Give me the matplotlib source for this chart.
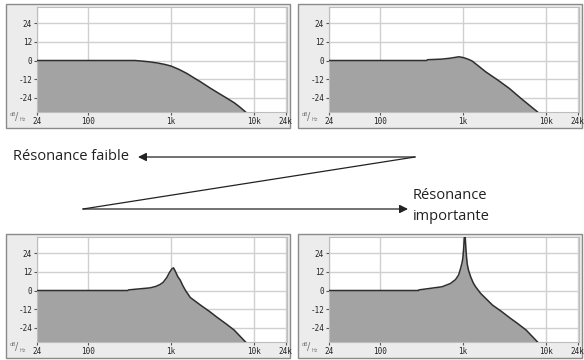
import matplotlib
matplotlib.use("Agg")
import matplotlib.pyplot as plt
from matplotlib.patches import Rectangle, FancyArrowPatch

# réponses du filtre (Hz, dB)
freq_faible = [24, 364, 450, 555, 700, 850, 1000, 1250, 1552, 1900, 2258, 2900, 3606,
               4600, 5756, 6800, 7835, 9000]
db_faible = [0, 0, -0.4, -0.9, -1.7, -2.6, -3.6, -5.8, -8.4, -11.3, -13.7, -17.5, -20.6,
             -24, -27.2, -30.2, -33, -36]

freq_moyenne = [24, 364, 370, 555, 700, 886, 1000, 1100, 1200, 1288, 1550, 1871, 2600,
                3606, 5000, 7835, 9000]
db_moyenne = [0, 0, 0.5, 0.9, 1.5, 2.4, 1.9, 1.2, 0.4, -0.4, -3.8, -7.3, -12.5,
              -18, -24.5, -33, -36]

freq_forte = [24, 300, 305, 555, 650, 735, 800, 886, 950, 1020, 1068, 1120, 1200, 1288,
              1380, 1482, 1700, 2258, 2900, 3606, 4600, 5756, 7835, 9000]
db_forte = [0, 0, 0.4, 1.7, 2.6, 3.9, 5.3, 8.4, 11.5, 14, 14.6, 12.5, 9, 6.6,
            3.2, 0.2, -4.5, -9.4, -13.5, -17.4, -21.5, -25.5, -33, -36]

freq_tres_forte = [24, 288, 292, 555, 700, 807, 880, 928, 970, 991, 1010, 1030, 1048,
                   1062, 1080, 1100, 1119, 1160, 1228, 1320, 1413, 1626, 2258, 2900,
                   3606, 4600, 5756, 7835, 9000]
db_tres_forte = [0, 0, 0.4, 2.4, 4.5, 7, 10, 14, 18, 21, 26, 33, 40,
                 33, 26, 21, 17, 13, 9, 5, 2.4, -1.9, -9.4, -13.5,
                 -17.4, -21.5, -25.5, -33, -36]

x_ticks = [24, 100, 1000, 10000, 24000]
x_labels = ["24", "100", "1k", "10k", "24k"]
y_ticks = [24, 12, 0, -12, -24]
y_labels = ["24", "12", "0", "-12", "-24"]

W, H = 584, 360
fig = plt.figure(figsize=(W / 100, H / 100), dpi=100)


def px(x, y):
    # pixels (origine en haut à gauche) -> fraction de figure
    return x / W, 1 - y / H


def panneau(x0, y0, freqs, dbs):
    # fond gris du panneau
    fx, fy = px(x0 + 6, y0 + 128)
    fig.add_artist(Rectangle((fx, fy), 284 / W, 124 / H, transform=fig.transFigure,
                             facecolor="#ececec", edgecolor="#8a8a8a", lw=1, zorder=0))
    left, bottom = px(x0 + 37, y0 + 112)
    ax = fig.add_axes([left, bottom, 250 / W, 105 / H])
    ax.set_xscale("log")
    ax.set_xlim(24, 25000)
    ax.set_ylim(-33.2, 34.5)
    ax.fill_between(freqs, dbs, -60, color="#a3a3a3", lw=0, zorder=2)
    ax.plot(freqs, dbs, color="#2e2e2e", lw=1.1, zorder=3)
    ax.set_xticks(x_ticks)
    ax.set_xticklabels(x_labels)
    ax.set_yticks(y_ticks)
    ax.set_yticklabels(y_labels)
    ax.minorticks_off()
    ax.grid(True, color="#d0d0d0", lw=1, zorder=1)
    ax.set_axisbelow(True)
    ax.tick_params(axis="both", labelsize=5.5, length=2, width=0.8, color="#555555",
                   pad=1.5, labelcolor="#222222")
    for lab in ax.get_xticklabels() + ax.get_yticklabels():
        lab.set_family("DejaVu Sans Mono")
    for s in ax.spines.values():
        s.set_color("#bdbdbd")
        s.set_linewidth(0.8)
    # étiquette dB/Hz
    tx, ty = px(x0 + 10, y0 + 114)
    fig.text(tx, ty, "dB", fontsize=3.5, color="#777777", ha="left", va="center")
    tx, ty = px(x0 + 15, y0 + 117)
    fig.text(tx, ty, "/", fontsize=7, color="#777777", ha="left", va="center")
    tx, ty = px(x0 + 19, y0 + 120)
    fig.text(tx, ty, "Hz", fontsize=3.5, color="#777777", ha="left", va="center")
    return ax


panneau(0, 0, freq_faible, db_faible)
panneau(292, 0, freq_moyenne, db_moyenne)
panneau(0, 230, freq_forte, db_forte)
panneau(292, 230, freq_tres_forte, db_tres_forte)

# flèches du milieu
fig.add_artist(FancyArrowPatch(px(415, 157), px(138, 157), transform=fig.transFigure,
                               arrowstyle="-|>,head_length=5,head_width=2.5",
                               color="#222222", lw=0.9, shrinkA=0, shrinkB=0))
fig.add_artist(plt.Line2D([px(415, 157)[0], px(83, 209)[0]],
                          [px(415, 157)[1], px(83, 209)[1]],
                          transform=fig.transFigure, color="#222222", lw=0.9))
fig.add_artist(FancyArrowPatch(px(83, 209), px(408, 209), transform=fig.transFigure,
                               arrowstyle="-|>,head_length=5,head_width=2.5",
                               color="#222222", lw=0.9, shrinkA=0, shrinkB=0))

tx, ty = px(13, 157)
fig.text(tx, ty, "Résonance faible", fontsize=10.5, family="Open Sans",
         ha="left", va="center", color="#222222")
tx, ty = px(413, 196)
fig.text(tx, ty, "Résonance", fontsize=10.5, family="Open Sans",
         ha="left", va="center", color="#222222")
tx, ty = px(413, 217)
fig.text(tx, ty, "importante", fontsize=10.5, family="Open Sans",
         ha="left", va="center", color="#222222")

fig.savefig("out.png", dpi=100)
